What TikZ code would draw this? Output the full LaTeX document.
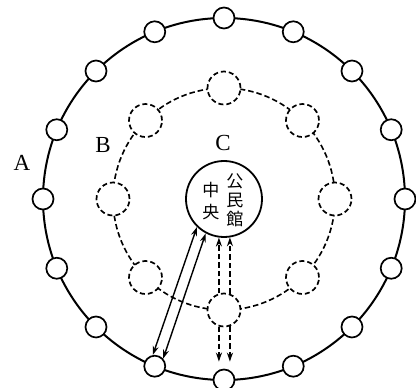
\documentclass[tikz,border=0pt]{standalone}
\usepackage{fontspec}
\setmainfont{Liberation Serif}
\newfontfamily\cjk{Noto Sans CJK JP}
\usepackage{tikz}
\usetikzlibrary{arrows.meta}

\begin{document}
\begin{tikzpicture}[x=1pt,y=1pt,
  >={Stealth[length=9pt,width=6pt]},
  ringStop/.style={circle,draw,line width=1.7pt,fill=white,minimum size=21pt,inner sep=0pt},
  dashStop/.style={circle,draw,line width=1.7pt,dash pattern=on 5pt off 3pt,fill=white,minimum size=33pt,inner sep=0pt},
  dashFlow/.style={line width=1.6pt,dash pattern=on 5.5pt off 3pt},
  solidFlow/.style={line width=1.4pt},
  zoneLabel/.style={inner sep=0pt,font=\fontsize{23}{23}\selectfont}]
\useasboundingbox (-224,-189) rectangle (192,199);
% outer ring A
\draw[line width=2pt] (0,0) circle (181);
\foreach \i in {0,...,15} {
  \node[ringStop] (a\i) at (\i*22.5:181) {};
}
% inner ring B
\draw[dashFlow] (0,0) circle (111);
\foreach \j in {0,...,7} {
  \node[dashStop] (b\j) at (\j*45:111) {};
}
% central hall C
\node[circle,draw,line width=1.8pt,fill=white,minimum size=76pt,inner sep=0pt] (hall) at (0,0) {};
\node[align=center,inner sep=0pt,font=\cjk\fontsize{17}{19}\selectfont] (hallRight) at (11,-1) {公\\民\\館};
\node[align=center,inner sep=0pt,font=\cjk\fontsize{17}{22}\selectfont] (hallLeft) at (-13,-2) {中\\央};
\node[zoneLabel] (labA) at (-202,36) {A};
\node[zoneLabel] (labB) at (-121,54) {B};
\node[zoneLabel] (labC) at (-1,56) {C};
% direct trips hall <-> A
\draw[solidFlow,<->] (hall.226) -- (a11.100);
\draw[solidFlow,<->] (hall.242) -- (a11.42);
% trips via B
\draw[dashFlow,->] (b6.107) -- (b6.107 |- hall.262);
\draw[dashFlow,->] (b6.70) -- (b6.70 |- hall.280);
\draw[dashFlow,->,shorten >=7pt] (b6.253) -- (b6.253 |- a12.north);
\draw[dashFlow,->,shorten >=7pt] (b6.290) -- (b6.290 |- a12.north);
\end{tikzpicture}
\end{document}
